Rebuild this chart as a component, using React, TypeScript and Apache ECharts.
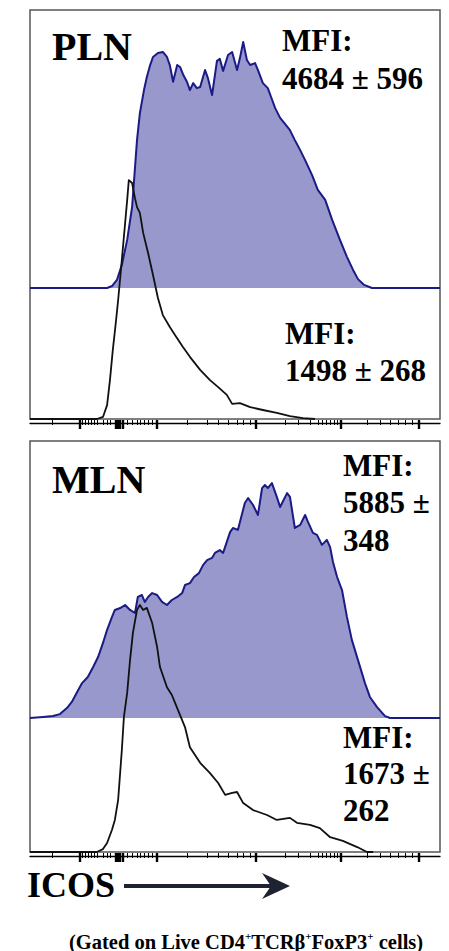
import { useEffect, useRef } from "react";
import * as echarts from "echarts";

// x: scaled ICOS fluorescence (0-100 across the plot), y: % of max count
const plnIcos: number[][] = [
  [0, 0], [18.8, 0], [20.0, 0.7], [21.2, 2.9], [22.4, 8.3], [23.7, 17.3], [24.9, 29.1],
  [26.1, 53.2], [26.8, 62.9], [27.8, 71.2], [28.5, 75.9], [29.3, 80.2], [30.0, 83.1],
  [31.2, 84.5], [32.4, 84.9], [33.4, 83.1], [34.1, 80.2], [34.9, 74.2], [35.9, 80.2],
  [36.6, 79.5], [37.4, 76.6], [38.3, 74.1], [39.0, 71.2], [39.8, 73.7], [40.7, 71.9],
  [41.5, 72.3], [42.7, 78.4], [43.4, 75.5], [44.4, 69.4], [45.6, 81.7], [46.3, 82.4],
  [47.1, 78.1], [48.3, 83.8], [49.3, 84.9], [50.5, 78.4], [51.2, 82.7], [52.0, 88.5],
  [52.9, 82.0], [53.7, 80.2], [54.9, 80.9], [55.6, 78.4], [56.8, 73.7], [58.0, 71.9],
  [58.8, 68.7], [59.8, 64.7], [61.0, 61.2], [62.2, 59.0], [63.4, 56.8], [64.6, 53.2],
  [65.9, 49.6], [67.1, 46.0], [68.8, 40.6], [70.2, 35.3], [72.0, 31.7], [73.7, 24.5],
  [75.6, 17.3], [77.3, 11.2], [78.8, 6.5], [80.0, 3.2], [81.5, 1.1], [83.4, 0], [100, 0],
];

const plnControl: number[][] = [
  [0, 0], [16.3, 0], [17.8, 0.5], [18.8, 3.4], [19.5, 9.5], [20.2, 16.9], [21.0, 24.2],
  [21.5, 29.1], [22.4, 38.9], [23.2, 47.9], [23.7, 53.5], [24.1, 58.4], [24.9, 57.7],
  [25.6, 54.0], [26.1, 51.8], [26.8, 50.4], [27.6, 45.5], [28.8, 40.6], [30.0, 35.2],
  [31.2, 29.6], [32.4, 25.4], [34.1, 22.5], [35.4, 20.5], [37.3, 17.6], [39.0, 15.2],
  [41.5, 12.0], [43.9, 9.5], [45.9, 7.8], [48.0, 5.9], [49.3, 3.7], [51.2, 3.9],
  [53.7, 2.9], [56.8, 2.2], [60.2, 1.5], [63.4, 0.7], [66.6, 0.2], [69.5, 0],
];

const mlnIcos: number[][] = [
  [0, 0], [3.2, 0.4], [5.6, 0.7], [7.3, 1.4], [9.0, 3.6], [10.2, 5.8], [11.5, 9.4],
  [12.7, 12.6], [14.1, 14.8], [15.4, 18.4], [16.6, 22.0], [17.8, 27.1], [18.8, 31.8],
  [20.0, 36.5], [20.7, 39.0], [22.0, 39.7], [23.2, 40.8], [24.4, 39.0], [25.6, 37.9],
  [26.3, 43.7], [27.3, 44.4], [28.0, 41.9], [28.8, 43.7], [29.8, 45.1], [31.0, 44.4],
  [32.2, 41.9], [33.4, 40.8], [34.6, 42.6], [35.9, 43.7], [37.1, 45.1], [37.8, 48.0],
  [39.0, 48.7], [40.0, 50.9], [41.2, 52.3], [42.2, 55.2], [43.2, 57.0], [44.4, 57.8],
  [45.1, 59.6], [46.3, 60.6], [47.1, 59.6], [48.8, 67.1], [49.5, 68.6], [50.7, 67.9],
  [52.4, 77.6], [53.2, 79.4], [54.4, 76.9], [55.6, 73.3], [56.6, 83.0], [57.3, 84.1],
  [58.0, 83.0], [59.0, 84.8], [60.2, 79.8], [61.0, 76.2], [62.7, 81.2], [63.4, 79.8],
  [64.6, 68.6], [65.9, 69.7], [67.1, 73.3], [67.8, 70.8], [69.0, 66.8], [70.0, 66.1],
  [71.2, 62.5], [72.4, 64.3], [73.2, 61.7], [73.9, 56.3], [74.9, 50.9], [76.1, 46.2],
  [77.3, 36.5], [78.5, 28.2], [80.0, 20.9], [81.7, 12.6], [82.9, 7.6], [84.6, 4.0],
  [86.6, 0.7], [87.8, 0], [100, 0],
];

const mlnControl: number[][] = [
  [0, 0], [16.3, 0], [17.8, 0.7], [18.8, 2.2], [20.0, 5.4], [20.7, 7.8], [21.5, 12.7],
  [22.4, 24.8], [22.9, 32.8], [23.7, 38.7], [24.4, 46.7], [25.1, 53.3], [26.1, 58.9],
  [26.8, 60.1], [27.6, 58.9], [28.5, 59.4], [29.8, 55.7], [31.0, 49.9], [31.7, 45.0],
  [33.4, 40.1], [34.6, 38.2], [35.9, 35.0], [36.6, 33.3], [37.8, 30.4], [39.0, 25.5],
  [41.5, 21.7], [43.9, 19.2], [45.9, 16.8], [47.6, 13.9], [49.3, 14.4], [50.5, 14.6],
  [52.0, 11.9], [54.4, 10.2], [57.8, 9.0], [60.2, 7.8], [63.4, 8.3], [65.1, 7.1],
  [68.3, 6.6], [70.7, 5.8], [73.2, 3.6], [76.3, 2.7], [79.8, 1.2], [82.2, 0], [83.7, 0],
];

const majorTicks = [12.2, 21.0, 21.5, 22.0, 22.5, 31.0, 55.1, 75.9, 94.9];
const minorTicks = [
  5.4, 12.7, 13.4, 14.1, 14.9, 15.6, 16.3, 17.8, 18.8, 19.5,
  23.7, 24.9, 26.1, 26.8, 27.8, 28.8, 29.8,
  38.3, 43.2, 45.9, 48.3, 50.5, 52.0, 53.7,
  62.2, 65.4, 68.3, 70.2, 71.2, 72.2, 73.2, 74.1, 74.9,
  82.2, 85.4, 87.8, 89.8, 91.5, 93.2,
];

const panelNames = ["PLN", "MLN"];
const plnIcosMfi = ["MFI:", "4684 ± 596"];
const plnControlMfi = ["MFI:", "1498 ± 268"];
const mlnIcosMfi = ["MFI:", "5885 ±", "348"];
const mlnControlMfi = ["MFI:", "1673 ±", "262"];
const axisTitle = "ICOS";

const SERIF = "'Liberation Serif', 'Times New Roman', serif";
const BLUE_LINE = "#1b1b86";
const BLUE_FILL = "#9898cc";
const BOX = "#555555";
const ARROW = "#1f2230";

export default function App() {
  const ref = useRef<HTMLDivElement>(null);
  useEffect(() => {
    if (!ref.current) return;
    const chart = echarts.init(ref.current, null, { renderer: "svg" });

    const grids = [
      { left: 30, top: 10, width: 410, height: 278 },
      { left: 30, top: 10, width: 410, height: 409, show: true, borderColor: BOX, borderWidth: 1.5, backgroundColor: "transparent" },
      { left: 30, top: 441, width: 410, height: 277 },
      { left: 30, top: 441, width: 410, height: 411, show: true, borderColor: BOX, borderWidth: 1.5, backgroundColor: "transparent" },
    ];

    const xAxes: any[] = [];
    const yAxes: any[] = [];
    for (let g = 0; g < 4; g++) {
      xAxes.push({ type: "value", gridIndex: g, min: 0, max: 100, show: false });
      yAxes.push({ type: "value", gridIndex: g, min: 0, max: 100, show: false });
    }
    [1, 3].forEach((g) => {
      xAxes.push({
        type: "value", gridIndex: g, min: 0, max: 100, position: "bottom", offset: 4,
        axisLine: { show: true, lineStyle: { color: "#000", width: 1.3 } },
        axisTick: { show: false }, axisLabel: { show: false }, splitLine: { show: false },
      });
      xAxes.push({
        type: "value", gridIndex: g, min: 0, max: 100, position: "bottom", offset: 1,
        axisLine: { show: false },
        axisTick: { show: true, customValues: majorTicks, length: 9, lineStyle: { color: "#000", width: 2.4 } },
        axisLabel: { show: false }, splitLine: { show: false },
      });
      xAxes.push({
        type: "value", gridIndex: g, min: 0, max: 100, position: "bottom", offset: 1,
        axisLine: { show: false },
        axisTick: { show: true, customValues: minorTicks, length: 5, lineStyle: { color: "#000", width: 1 } },
        axisLabel: { show: false }, splitLine: { show: false },
      });
    });

    const blue = (data: number[][], g: number) => ({
      type: "line", xAxisIndex: g, yAxisIndex: g, data, symbol: "none", z: 2,
      lineStyle: { color: BLUE_LINE, width: 2, join: "round" },
      areaStyle: { color: BLUE_FILL, opacity: 1 },
      silent: true,
    });
    const black = (data: number[][], g: number) => ({
      type: "line", xAxisIndex: g, yAxisIndex: g, data, symbol: "none", z: 3,
      lineStyle: { color: "#111", width: 1.8, join: "round" },
      silent: true,
    });

    const txt = (text: string, x: number, y: number, size: number) => ({
      type: "text", x, y, z: 10,
      style: { text, fill: "#000", font: `bold ${size}px ${SERIF}`, verticalAlign: "middle", align: "left" },
    });

    const graphics: any[] = [
      txt(panelNames[0], 52, 46, 40),
      txt(panelNames[1], 52, 479, 40),
      txt(plnIcosMfi[0], 282, 40, 31),
      txt(plnIcosMfi[1], 282, 78, 31),
      txt(plnControlMfi[0], 285, 333, 31),
      txt(plnControlMfi[1], 285, 370, 31),
      txt(mlnIcosMfi[0], 343, 465, 31),
      txt(mlnIcosMfi[1], 343, 502, 31),
      txt(mlnIcosMfi[2], 343, 540, 31),
      txt(mlnControlMfi[0], 343, 737, 31),
      txt(mlnControlMfi[1], 343, 773, 31),
      txt(mlnControlMfi[2], 343, 810, 31),
      txt(axisTitle, 27, 885, 36),
      {
        type: "line", z: 10,
        shape: { x1: 124, y1: 886, x2: 272, y2: 886 },
        style: { stroke: ARROW, lineWidth: 4 },
      },
      {
        type: "polygon", z: 10,
        shape: { points: [[290, 886], [262, 873], [271, 886], [262, 899]] },
        style: { fill: ARROW },
      },
      {
        type: "text", x: 69, y: 941, z: 10,
        style: {
          text: "{a|(Gated on Live CD4}{s|+}{a|TCRβ}{s|+}{a|FoxP3}{s|+}{a| cells)}",
          verticalAlign: "middle", align: "left",
          rich: {
            a: { fontFamily: SERIF, fontWeight: "bold", fontSize: 20.5, fill: "#000", lineHeight: 22, verticalAlign: "bottom" },
            s: { fontFamily: SERIF, fontWeight: "bold", fontSize: 11, fill: "#000", lineHeight: 22, verticalAlign: "top" },
          },
        },
      },
    ];

    chart.setOption({
      animation: false,
      grid: grids,
      xAxis: xAxes,
      yAxis: yAxes,
      series: [
        blue(plnIcos, 0),
        black(plnControl, 1),
        blue(mlnIcos, 2),
        black(mlnControl, 3),
      ],
      graphic: graphics,
    });
    return () => chart.dispose();
  }, []);
  return <div ref={ref} style={{ position: "absolute", left: 0, top: 0, width: 449, height: 951, background: "#fff" }} />;
}
